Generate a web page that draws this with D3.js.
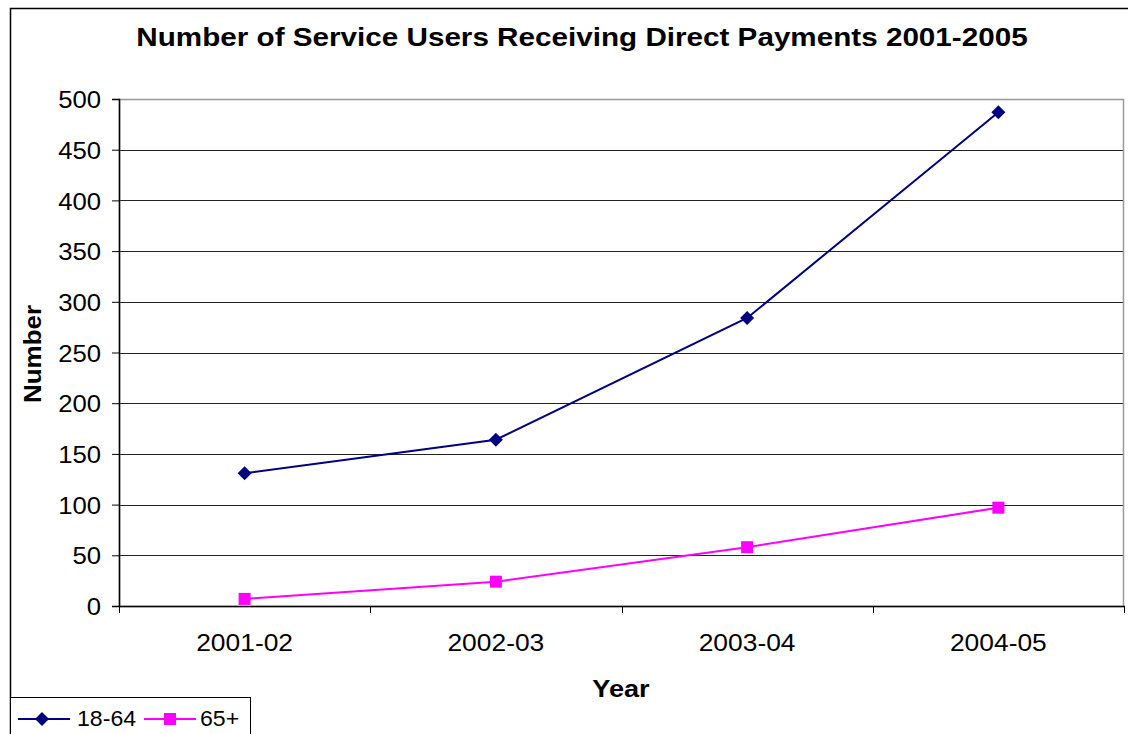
<!DOCTYPE html>
<html>
<head>
<meta charset="utf-8">
<script src="https://cdn.jsdelivr.net/npm/d3@7"></script>
<style>
  html, body { margin: 0; padding: 0; background: #fff; }
  svg { display: block; font-family: "Liberation Sans", Arial, sans-serif; }
</style>
</head>
<body>
<svg id="chart" width="1128" height="734"></svg>
<script>
// Service users receiving direct payments by year and age group
const years = ["2001-02", "2002-03", "2003-04", "2004-05"];
const adults = [131, 164, 284, 487];   // 18-64
const older = [7, 24, 58, 97];         // 65+
const yTicks = [0, 50, 100, 150, 200, 250, 300, 350, 400, 450, 500];
const seriesNames = ["18-64", "65+"];

const svg = d3.select("#chart");
const W = 1128, H = 734;
const plot = { left: 119, top: 99, right: 1124, bottom: 606 };

// widen glyphs a little, the way the spreadsheet renderer draws them
function stretch(sel, k) {
  sel.each(function () {
    const len = this.getComputedTextLength();
    d3.select(this).attr("textLength", len * k).attr("lengthAdjust", "spacingAndGlyphs");
  });
}

// outer chart frame (runs past the right and bottom edges)
svg.append("rect")
  .attr("x", 10.5).attr("y", 8.5)
  .attr("width", W + 10).attr("height", H + 10)
  .attr("fill", "#fff").attr("stroke", "#000").attr("stroke-width", 1.5);

const x = d3.scaleBand().domain(years).range([plot.left, plot.right]);
const y = d3.scaleLinear().domain([0, 500]).range([plot.bottom, plot.top]);

// gridlines
svg.append("g").selectAll("line").data(yTicks.filter(d => d > 0 && d < 500)).join("line")
  .attr("x1", plot.left).attr("x2", plot.right)
  .attr("y1", d => Math.round(y(d)) + 0.5).attr("y2", d => Math.round(y(d)) + 0.5)
  .attr("stroke", "#222").attr("stroke-width", 1);

// plot area border
svg.append("rect")
  .attr("x", plot.left + 0.5).attr("y", plot.top + 0.5)
  .attr("width", plot.right - plot.left - 1).attr("height", plot.bottom - plot.top)
  .attr("fill", "none").attr("stroke", "#999").attr("stroke-width", 1.5);

// y axis
const yAxis = svg.append("g").attr("transform", `translate(${plot.left},0)`)
  .call(d3.axisLeft(y).tickValues(yTicks).tickSize(7).tickPadding(11).tickFormat(d3.format("d")));
yAxis.select(".domain").attr("stroke", "#000").attr("stroke-width", 1.5);
yAxis.selectAll(".tick line").attr("stroke", "#000");
yAxis.selectAll("text").attr("font-size", 24).attr("fill", "#000").attr("dy", "0.36em")
  .call(stretch, 1.07);

// x axis with ticks at category boundaries
const xAxis = svg.append("g").attr("transform", `translate(0,${plot.bottom})`);
xAxis.append("line")
  .attr("x1", plot.left).attr("x2", plot.right + 1)
  .attr("y1", 0.5).attr("y2", 0.5).attr("stroke", "#000").attr("stroke-width", 1.5);
const bounds = years.map(d => x(d)).concat([x(years[years.length - 1]) + x.bandwidth()]);
xAxis.selectAll("line.tk").data(bounds).join("line").attr("class", "tk")
  .attr("x1", d => Math.round(d) + 0.5).attr("x2", d => Math.round(d) + 0.5)
  .attr("y1", 0).attr("y2", 7).attr("stroke", "#000");
xAxis.selectAll("text").data(years).join("text")
  .attr("x", d => x(d) + x.bandwidth() / 2).attr("y", 45)
  .attr("text-anchor", "middle").attr("font-size", 24).text(d => d)
  .call(stretch, 1.1);

// lines and markers
const line = d3.line().x((d, i) => x(years[i]) + x.bandwidth() / 2).y(d => y(d));
const navy = "#000080", magenta = "#ff00ff";

svg.append("path").datum(adults).attr("d", line)
  .attr("fill", "none").attr("stroke", navy).attr("stroke-width", 2);
svg.append("path").datum(older).attr("d", line)
  .attr("fill", "none").attr("stroke", magenta).attr("stroke-width", 2);

const diamond = d3.symbol().type(d3.symbolSquare).size(98);
svg.append("g").selectAll("path").data(adults).join("path")
  .attr("d", diamond)
  .attr("transform", (d, i) => `translate(${x(years[i]) + x.bandwidth() / 2},${y(d)}) rotate(45)`)
  .attr("fill", navy);
svg.append("g").selectAll("rect").data(older).join("rect")
  .attr("x", (d, i) => x(years[i]) + x.bandwidth() / 2 - 6)
  .attr("y", d => y(d) - 6)
  .attr("width", 12).attr("height", 12).attr("fill", magenta);

// titles
svg.append("text").attr("x", 582).attr("y", 46).attr("text-anchor", "middle")
  .attr("font-size", 26).attr("font-weight", "bold")
  .text("Number of Service Users Receiving Direct Payments 2001-2005")
  .call(stretch, 1.14);
svg.append("text").attr("transform", "translate(41,354) rotate(-90)").attr("text-anchor", "middle")
  .attr("font-size", 24).attr("font-weight", "bold").text("Number")
  .call(stretch, 1.08);
svg.append("text").attr("x", 621).attr("y", 697).attr("text-anchor", "middle")
  .attr("font-size", 24).attr("font-weight", "bold").text("Year")
  .call(stretch, 1.13);

// legend
const lg = svg.append("g");
lg.append("rect").attr("x", 10.5).attr("y", 697.5).attr("width", 240).attr("height", 50)
  .attr("fill", "#fff").attr("stroke", "#000").attr("stroke-width", 1);
const legendItems = [
  { name: seriesNames[0], color: navy, x0: 18, tx: 77, shape: "diamond" },
  { name: seriesNames[1], color: magenta, x0: 144, tx: 200, shape: "square" }
];
legendItems.forEach(it => {
  lg.append("line").attr("x1", it.x0).attr("x2", it.x0 + 52).attr("y1", 719).attr("y2", 719)
    .attr("stroke", it.color).attr("stroke-width", 2);
  if (it.shape === "diamond") {
    lg.append("path").attr("d", diamond).attr("transform", `translate(${it.x0 + 24},719) rotate(45)`)
      .attr("fill", it.color);
  } else {
    lg.append("rect").attr("x", it.x0 + 20).attr("y", 713).attr("width", 12).attr("height", 12)
      .attr("fill", it.color);
  }
  lg.append("text").attr("x", it.tx).attr("y", 726).attr("font-size", 22).text(it.name)
    .call(stretch, 1.05);
});
</script>
</body>
</html>
